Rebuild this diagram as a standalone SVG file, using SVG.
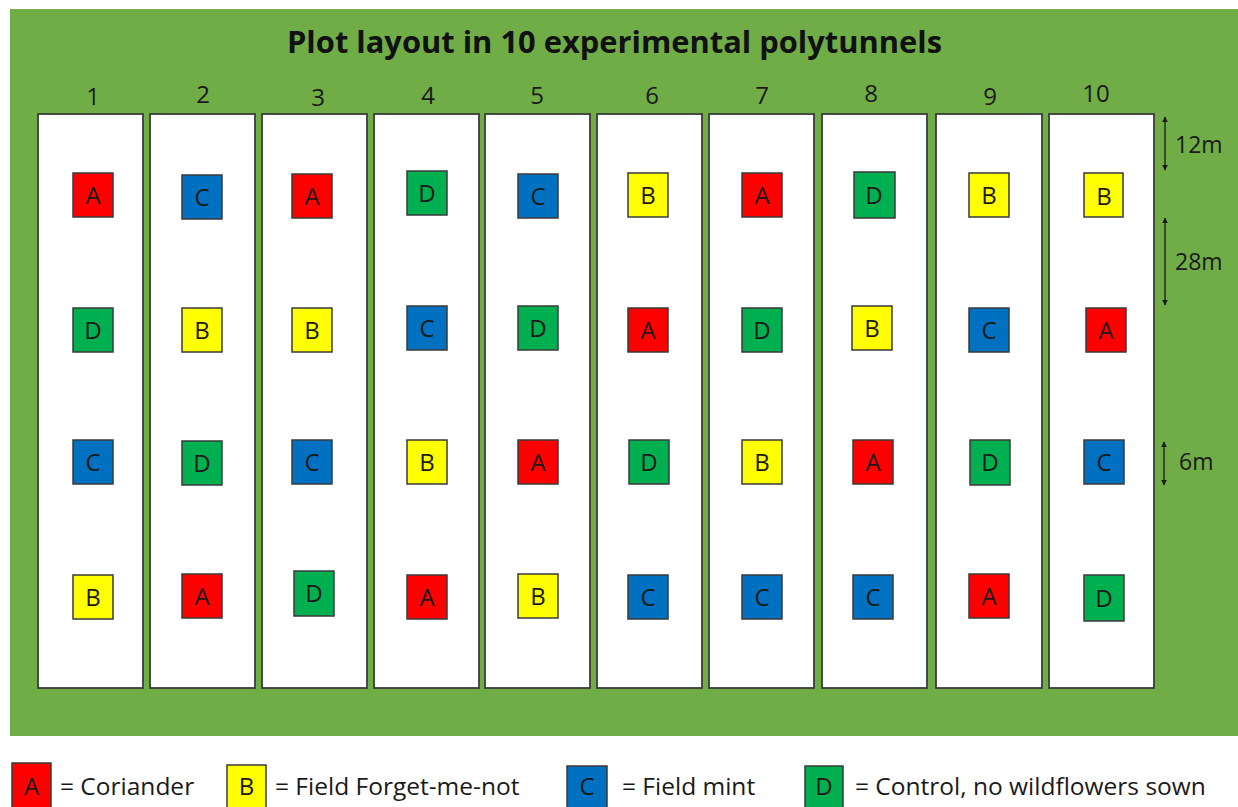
<svg xmlns="http://www.w3.org/2000/svg" width="1238" height="807" viewBox="0 0 1238 807">
  <defs>
    <style>
      .field { fill: #70AD47; }
      .tunnel { fill: #FFFFFF; stroke: #3A3F3A; stroke-width: 1.8; }
      .plot { stroke: #3A3A3A; stroke-width: 1.5; }
      .a { fill: #FF0000; }
      .b { fill: #FFFF00; }
      .c { fill: #0070C0; }
      .d { fill: #00B050; }
      .lbl { font-family: "Open Sans", "Liberation Sans", sans-serif; font-size: 24px; fill: #1A1A1A; text-anchor: middle; }
      .num { font-family: "Open Sans", "Liberation Sans", sans-serif; font-size: 24px; fill: #1A1A1A; text-anchor: middle; }
      .title { font-family: "Open Sans", "Liberation Sans", sans-serif; font-size: 30px; font-weight: bold; fill: #111111; }
      .dim { font-family: "Open Sans", "Liberation Sans", sans-serif; font-size: 23px; fill: #1A1A1A; }
      .key { font-family: "Open Sans", "Liberation Sans", sans-serif; font-size: 24.5px; fill: #1A1A1A; }
      .dimline { stroke: #1A1A1A; stroke-width: 1.3; fill: none; marker-start: url(#tip); marker-end: url(#tip); }
    </style>
    <marker id="tip" viewBox="0 0 10 10" refX="9" refY="5" markerWidth="6" markerHeight="7" orient="auto-start-reverse" markerUnits="userSpaceOnUse">
      <path d="M0,0 L10,5 L0,10 Z" fill="#1A1A1A"/>
    </marker>
  </defs>

  <rect width="1238" height="807" fill="#FFFFFF"/>
  <rect class="field" x="10" y="9" width="1228" height="727"/>

  <text class="title" x="287" y="53" textLength="655" lengthAdjust="spacingAndGlyphs">Plot layout in 10 experimental polytunnels</text>

  <!-- tunnel numbers -->
  <g id="tunnel-numbers">
    <text class="num" x="93" y="105">1</text>
    <text class="num" x="203" y="103">2</text>
    <text class="num" x="318" y="106">3</text>
    <text class="num" x="428" y="104">4</text>
    <text class="num" x="537" y="104">5</text>
    <text class="num" x="652" y="104">6</text>
    <text class="num" x="762" y="104">7</text>
    <text class="num" x="871" y="102">8</text>
    <text class="num" x="990" y="105">9</text>
    <text class="num" x="1096" y="102">10</text>
  </g>

  <!-- tunnels -->
  <g id="tunnel-1"><rect class="tunnel" x="38" y="114" width="105" height="574"/></g>
  <g id="tunnel-2"><rect class="tunnel" x="150" y="114" width="105" height="574"/></g>
  <g id="tunnel-3"><rect class="tunnel" x="262" y="114" width="105" height="574"/></g>
  <g id="tunnel-4"><rect class="tunnel" x="374" y="114" width="105" height="574"/></g>
  <g id="tunnel-5"><rect class="tunnel" x="485" y="114" width="105" height="574"/></g>
  <g id="tunnel-6"><rect class="tunnel" x="597" y="114" width="105" height="574"/></g>
  <g id="tunnel-7"><rect class="tunnel" x="709" y="114" width="105" height="574"/></g>
  <g id="tunnel-8"><rect class="tunnel" x="822" y="114" width="105" height="574"/></g>
  <g id="tunnel-9"><rect class="tunnel" x="936" y="114" width="106" height="574"/></g>
  <g id="tunnel-10"><rect class="tunnel" x="1049" y="114" width="105" height="574"/></g>

  <!-- plots: column 1 -->
  <g id="p1-1"><rect class="plot a" x="73" y="173" width="40" height="44"/><text class="lbl" x="93" y="204">A</text></g>
  <g id="p1-2"><rect class="plot d" x="73" y="308" width="40" height="44"/><text class="lbl" x="93" y="339">D</text></g>
  <g id="p1-3"><rect class="plot c" x="73" y="440" width="40" height="44"/><text class="lbl" x="93" y="471">C</text></g>
  <g id="p1-4"><rect class="plot b" x="73" y="575" width="40" height="44"/><text class="lbl" x="93" y="606">B</text></g>
  <!-- column 2 -->
  <g id="p2-1"><rect class="plot c" x="182" y="175" width="40" height="44"/><text class="lbl" x="202" y="206">C</text></g>
  <g id="p2-2"><rect class="plot b" x="182" y="308" width="40" height="44"/><text class="lbl" x="202" y="339">B</text></g>
  <g id="p2-3"><rect class="plot d" x="182" y="441" width="40" height="44"/><text class="lbl" x="202" y="472">D</text></g>
  <g id="p2-4"><rect class="plot a" x="182" y="574" width="40" height="44"/><text class="lbl" x="202" y="605">A</text></g>
  <!-- column 3 -->
  <g id="p3-1"><rect class="plot a" x="292" y="174" width="40" height="44"/><text class="lbl" x="312" y="205">A</text></g>
  <g id="p3-2"><rect class="plot b" x="292" y="308" width="40" height="44"/><text class="lbl" x="312" y="339">B</text></g>
  <g id="p3-3"><rect class="plot c" x="292" y="440" width="40" height="44"/><text class="lbl" x="312" y="471">C</text></g>
  <g id="p3-4"><rect class="plot d" x="294" y="571" width="40" height="45"/><text class="lbl" x="314" y="602">D</text></g>
  <!-- column 4 -->
  <g id="p4-1"><rect class="plot d" x="407" y="171" width="40" height="44"/><text class="lbl" x="427" y="202">D</text></g>
  <g id="p4-2"><rect class="plot c" x="407" y="306" width="40" height="44"/><text class="lbl" x="427" y="337">C</text></g>
  <g id="p4-3"><rect class="plot b" x="407" y="440" width="40" height="44"/><text class="lbl" x="427" y="471">B</text></g>
  <g id="p4-4"><rect class="plot a" x="407" y="575" width="40" height="44"/><text class="lbl" x="427" y="606">A</text></g>
  <!-- column 5 -->
  <g id="p5-1"><rect class="plot c" x="518" y="174" width="40" height="44"/><text class="lbl" x="538" y="205">C</text></g>
  <g id="p5-2"><rect class="plot d" x="518" y="306" width="40" height="44"/><text class="lbl" x="538" y="337">D</text></g>
  <g id="p5-3"><rect class="plot a" x="518" y="440" width="40" height="44"/><text class="lbl" x="538" y="471">A</text></g>
  <g id="p5-4"><rect class="plot b" x="518" y="574" width="40" height="44"/><text class="lbl" x="538" y="605">B</text></g>
  <!-- column 6 -->
  <g id="p6-1"><rect class="plot b" x="628" y="173" width="40" height="44"/><text class="lbl" x="648" y="204">B</text></g>
  <g id="p6-2"><rect class="plot a" x="628" y="308" width="40" height="44"/><text class="lbl" x="648" y="339">A</text></g>
  <g id="p6-3"><rect class="plot d" x="629" y="440" width="40" height="44"/><text class="lbl" x="649" y="471">D</text></g>
  <g id="p6-4"><rect class="plot c" x="628" y="575" width="40" height="44"/><text class="lbl" x="648" y="606">C</text></g>
  <!-- column 7 -->
  <g id="p7-1"><rect class="plot a" x="742" y="173" width="40" height="44"/><text class="lbl" x="762" y="204">A</text></g>
  <g id="p7-2"><rect class="plot d" x="742" y="308" width="40" height="44"/><text class="lbl" x="762" y="339">D</text></g>
  <g id="p7-3"><rect class="plot b" x="742" y="440" width="40" height="44"/><text class="lbl" x="762" y="471">B</text></g>
  <g id="p7-4"><rect class="plot c" x="742" y="575" width="40" height="44"/><text class="lbl" x="762" y="606">C</text></g>
  <!-- column 8 -->
  <g id="p8-1"><rect class="plot d" x="854" y="172" width="41" height="46"/><text class="lbl" x="874" y="204">D</text></g>
  <g id="p8-2"><rect class="plot b" x="852" y="306" width="40" height="44"/><text class="lbl" x="872" y="337">B</text></g>
  <g id="p8-3"><rect class="plot a" x="853" y="440" width="40" height="44"/><text class="lbl" x="873" y="471">A</text></g>
  <g id="p8-4"><rect class="plot c" x="853" y="575" width="40" height="44"/><text class="lbl" x="873" y="606">C</text></g>
  <!-- column 9 -->
  <g id="p9-1"><rect class="plot b" x="969" y="173" width="40" height="44"/><text class="lbl" x="989" y="204">B</text></g>
  <g id="p9-2"><rect class="plot c" x="969" y="308" width="40" height="44"/><text class="lbl" x="989" y="339">C</text></g>
  <g id="p9-3"><rect class="plot d" x="970" y="440" width="40" height="45"/><text class="lbl" x="990" y="471">D</text></g>
  <g id="p9-4"><rect class="plot a" x="969" y="574" width="40" height="44"/><text class="lbl" x="989" y="605">A</text></g>
  <!-- column 10 -->
  <g id="p10-1"><rect class="plot b" x="1084" y="173" width="39" height="44"/><text class="lbl" x="1104" y="205">B</text></g>
  <g id="p10-2"><rect class="plot a" x="1086" y="308" width="40" height="44"/><text class="lbl" x="1106" y="339">A</text></g>
  <g id="p10-3"><rect class="plot c" x="1084" y="440" width="40" height="44"/><text class="lbl" x="1104" y="471">C</text></g>
  <g id="p10-4"><rect class="plot d" x="1084" y="575" width="40" height="46"/><text class="lbl" x="1104" y="607">D</text></g>

  <!-- spacing dimensions -->
  <g id="dimensions">
    <line class="dimline" x1="1165" y1="117" x2="1165" y2="170"/>
    <line class="dimline" x1="1165" y1="218" x2="1165" y2="305"/>
    <line class="dimline" x1="1164" y1="442" x2="1164" y2="485"/>
  </g>
  <g id="dimension-labels">
    <text class="dim" x="1175" y="153">12m</text>
    <text class="dim" x="1175" y="270">28m</text>
    <text class="dim" x="1179" y="470">6m</text>
  </g>

  <!-- key -->
  <g id="key-a"><rect class="plot a" x="12" y="763" width="39" height="48"/><text class="lbl" x="31.5" y="795">A</text><text class="key" x="60" y="795">= Coriander</text></g>
  <g id="key-b"><rect class="plot b" x="227" y="765" width="39" height="48"/><text class="lbl" x="246.5" y="795">B</text><text class="key" x="275" y="795">= Field Forget-me-not</text></g>
  <g id="key-c"><rect class="plot c" x="567" y="766" width="40" height="48"/><text class="lbl" x="587" y="795">C</text><text class="key" x="622" y="795">= Field mint</text></g>
  <g id="key-d"><rect class="plot d" x="805" y="766" width="38" height="48"/><text class="lbl" x="824" y="795">D</text><text class="key" x="855" y="795">= Control, no wildflowers sown</text></g>
</svg>
